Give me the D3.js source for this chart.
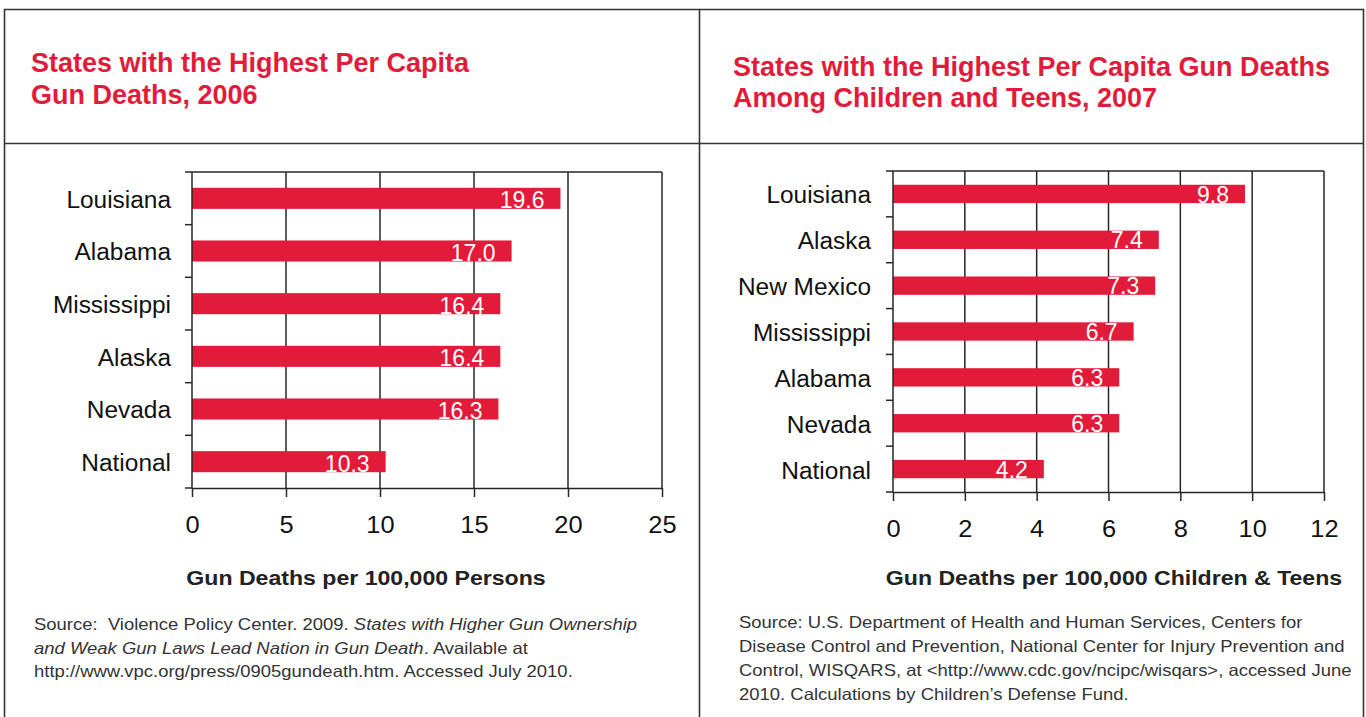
<!DOCTYPE html>
<html>
<head>
<meta charset="utf-8">
<script src="https://cdn.jsdelivr.net/npm/d3@7"></script>
<style>
  body { margin: 0; background: #fff; }
  svg { display: block; font-family: "Liberation Sans", Arial, Helvetica, sans-serif; }
  text { white-space: pre; }
</style>
</head>
<body>
<svg id="chart" width="1366" height="717"></svg>
<script>
// chart data
const states2006 = ["Louisiana", "Alabama", "Mississippi", "Alaska", "Nevada", "National"]
const deaths2006 = [19.6, 17.0, 16.4, 16.4, 16.3, 10.3]
const ticks2006 = [0, 5, 10, 15, 20, 25]

const states2007 = ["Louisiana", "Alaska", "New Mexico", "Mississippi", "Alabama", "Nevada", "National"]
const deaths2007 = [9.8, 7.4, 7.3, 6.7, 6.3, 6.3, 4.2]
const ticks2007 = [0, 2, 4, 6, 8, 10, 12]

const red = "#e31b3a"
const ink = "#262626"

const svg = d3.select('#chart')

// frame: outer box, divider, header rule
const frame = svg.append('g')
    .attr('fill', 'none')
    .attr('stroke', '#333')
    .attr('stroke-width', 1.6)
frame.append('path').attr('d', 'M4.5,730 V9.5 H1363.5 V730')
frame.append('line').attr('x1', 699.5).attr('x2', 699.5).attr('y1', 9.5).attr('y2', 717)
frame.append('line').attr('x1', 4.5).attr('x2', 1363.5).attr('y1', 143.5).attr('y2', 143.5)

drawPanel({
    title: ["States with the Highest Per Capita", "Gun Deaths, 2006"],
    titleX: 31, titleY: [72, 104],
    states: states2006, values: deaths2006, ticks: ticks2006,
    left: 192, right: 662, top: 172, bottom: 488,
    labelRight: 171,
    axisTitle: "Gun Deaths per 100,000 Persons", axisTitleX: 366,
    sourceX: 34, sourceY: [630, 654, 677],
    source: [
        [["Source:  Violence Policy Center. 2009. ", false], ["States with Higher Gun Ownership", true]],
        [["and Weak Gun Laws Lead Nation in Gun Death", true], [". Available at", false]],
        [["http://www.vpc.org/press/0905gundeath.htm. Accessed July 2010.", false]]
    ]
})

drawPanel({
    title: ["States with the Highest Per Capita Gun Deaths", "Among Children and Teens, 2007"],
    titleX: 733, titleY: [76, 107],
    states: states2007, values: deaths2007, ticks: ticks2007,
    left: 893, right: 1324, top: 171, bottom: 492,
    labelRight: 871,
    axisTitle: "Gun Deaths per 100,000 Children & Teens", axisTitleX: 1114,
    sourceX: 739, sourceY: [628, 652, 676, 700],
    source: [
        [["Source: U.S. Department of Health and Human Services, Centers for", false]],
        [["Disease Control and Prevention, National Center for Injury Prevention and", false]],
        [["Control, WISQARS, at <http://www.cdc.gov/ncipc/wisqars>, accessed June", false]],
        [["2010. Calculations by Children\u2019s Defense Fund.", false]]
    ]
})

// place text at (x, y) and stretch it horizontally, the print font is wider than Arial
function place(sel, x, y, sx) {
    sel.attr('transform', (d, i) => `translate(${typeof x === 'function' ? x(d, i) : x},${typeof y === 'function' ? y(d, i) : y}) scale(${sx},1)`)
}

function drawPanel(cfg) {
    const g = svg.append('g')

    // red heading
    g.append('g')
        .selectAll('text')
        .data(cfg.title)
        .enter()
        .append('text')
        .attr('x', cfg.titleX)
        .attr('y', (d, i) => cfg.titleY[i])
        .attr('fill', red)
        .attr('font-weight', 'bold')
        .attr('font-size', 27)
        .text(d => d)

    const x = d3.scaleLinear()
        .domain([0, d3.max(cfg.ticks)])
        .range([cfg.left, cfg.right])

    const y = d3.scaleBand()
        .domain(cfg.states)
        .range([cfg.top, cfg.bottom])
        .paddingInner(0.6)
        .paddingOuter(0.3)

    const band = (cfg.bottom - cfg.top) / cfg.states.length

    // vertical grid lines + top border
    g.append('g')
        .attr('stroke', ink)
        .attr('stroke-width', 1.5)
        .selectAll('line')
        .data(cfg.ticks.slice(1))
        .enter()
        .append('line')
        .attr('x1', d => x(d)).attr('x2', d => x(d))
        .attr('y1', cfg.top).attr('y2', cfg.bottom)
    g.append('line')
        .attr('x1', cfg.left).attr('x2', cfg.right)
        .attr('y1', cfg.top).attr('y2', cfg.top)
        .attr('stroke', ink).attr('stroke-width', 1.5)

    // bars
    const rows = cfg.states.map((s, i) => ({ state: s, value: cfg.values[i] }))
    g.append('g')
        .selectAll('rect')
        .data(rows)
        .enter()
        .append('rect')
        .attr('x', x(0))
        .attr('y', d => y(d.state))
        .attr('width', d => x(d.value) - x(0))
        .attr('height', y.bandwidth())
        .attr('fill', red)

    // values inside bars
    g.append('g')
        .selectAll('text')
        .data(rows)
        .enter()
        .append('text')
        .attr('x', d => x(d.value) - 16)
        .attr('y', d => y(d.state) + y.bandwidth() - 0.5)
        .attr('text-anchor', 'end')
        .attr('fill', '#fff')
        .attr('font-size', 23)
        .text(d => d3.format('.1f')(d.value))

    // category axis: ticks between rows, labels to the left
    const yAxis = g.append('g')
        .attr('stroke', ink)
        .attr('stroke-width', 1.5)
    yAxis.append('line')
        .attr('x1', cfg.left).attr('x2', cfg.left)
        .attr('y1', cfg.top).attr('y2', cfg.bottom)
    yAxis.selectAll('line.tick')
        .data(d3.range(cfg.states.length + 1))
        .enter()
        .append('line')
        .attr('class', 'tick')
        .attr('x1', cfg.left - 7).attr('x2', cfg.left)
        .attr('y1', i => cfg.top + i * band).attr('y2', i => cfg.top + i * band)

    g.append('g')
        .selectAll('text')
        .data(cfg.states)
        .enter()
        .append('text')
        .attr('dy', '0.36em')
        .attr('text-anchor', 'end')
        .attr('fill', '#111')
        .attr('font-size', 23.5)
        .text(d => d)
        .call(place, cfg.labelRight, d => y(d) + y.bandwidth() / 2 + 1, 1.04)

    // value axis
    const xAxis = g.append('g')
        .attr('transform', `translate(0,${cfg.bottom})`)
        .call(d3.axisBottom(x).tickValues(cfg.ticks).tickSize(9).tickSizeOuter(0).tickPadding(19))
    xAxis.select('.domain').attr('stroke', ink).attr('stroke-width', 1.6)
    xAxis.selectAll('.tick line').attr('stroke', ink).attr('stroke-width', 1.5)
    xAxis.selectAll('.tick text')
        .attr('font-family', 'inherit')
        .attr('font-size', 24)
        .attr('fill', '#111')
        .attr('transform', 'scale(1.06,1)')

    g.append('text')
        .attr('text-anchor', 'middle')
        .attr('font-weight', 'bold')
        .attr('font-size', 21)
        .attr('fill', '#222')
        .text(cfg.axisTitle)
        .call(place, cfg.axisTitleX, 585, 1.1)

    // source note
    const note = g.append('g')
        .selectAll('text')
        .data(cfg.source)
        .enter()
        .append('text')
        .attr('font-size', 16.5)
        .attr('fill', '#333')
        .call(place, cfg.sourceX, (d, i) => cfg.sourceY[i], 1.12)
    note.selectAll('tspan')
        .data(d => d)
        .enter()
        .append('tspan')
        .attr('font-style', d => d[1] ? 'italic' : null)
        .text(d => d[0])
}
</script>
</body>
</html>
